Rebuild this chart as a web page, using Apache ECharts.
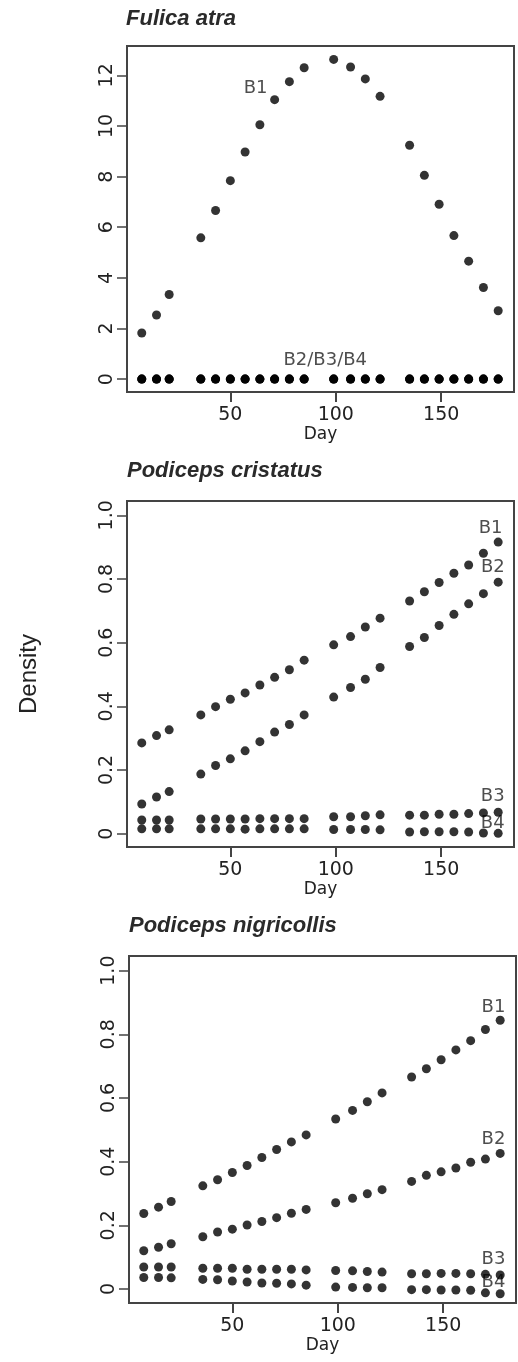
<!DOCTYPE html>
<html>
<head>
<meta charset="utf-8">
<title>Density by day</title>
<script src="https://cdn.jsdelivr.net/npm/echarts@6/dist/echarts.min.js"></script>
<style>
  html, body { margin: 0; padding: 0; background: #fff; }
  #chart { width: 518px; height: 1362px; }
</style>
</head>
<body>
<div id="chart"></div>
<script>
(function () {
  'use strict';

  /* ---------- data ---------- */
  const DAYS = [8, 15, 21, 36, 43, 50, 57, 64, 71, 78, 85, 99, 107, 114, 121, 135, 142, 149, 156, 163, 170, 177];

  const FULICA_B1 = [1.82, 2.53, 3.34, 5.58, 6.66, 7.84, 8.97, 10.05, 11.04, 11.75, 12.30, 12.63, 12.33, 11.86, 11.17, 9.24, 8.05, 6.91, 5.67, 4.66, 3.62, 2.70];
  const FULICA_B2 = [0, 0, 0, 0, 0, 0, 0, 0, 0, 0, 0, 0, 0, 0, 0, 0, 0, 0, 0, 0, 0, 0];
  const FULICA_B3 = [0, 0, 0, 0, 0, 0, 0, 0, 0, 0, 0, 0, 0, 0, 0, 0, 0, 0, 0, 0, 0, 0];
  const FULICA_B4 = [0, 0, 0, 0, 0, 0, 0, 0, 0, 0, 0, 0, 0, 0, 0, 0, 0, 0, 0, 0, 0, 0];

  const CRISTATUS_B1 = [0.285, 0.308, 0.326, 0.373, 0.399, 0.422, 0.442, 0.467, 0.491, 0.515, 0.545, 0.593, 0.619, 0.649, 0.677, 0.731, 0.760, 0.789, 0.818, 0.844, 0.881, 0.916];
  const CRISTATUS_B2 = [0.093, 0.115, 0.132, 0.187, 0.214, 0.235, 0.260, 0.289, 0.319, 0.343, 0.373, 0.429, 0.459, 0.485, 0.522, 0.588, 0.616, 0.654, 0.689, 0.722, 0.754, 0.790];
  const CRISTATUS_B3 = [0.043, 0.043, 0.043, 0.046, 0.046, 0.046, 0.046, 0.047, 0.047, 0.047, 0.047, 0.053, 0.053, 0.056, 0.059, 0.058, 0.058, 0.061, 0.061, 0.063, 0.065, 0.067];
  const CRISTATUS_B4 = [0.015, 0.015, 0.015, 0.015, 0.015, 0.015, 0.014, 0.015, 0.015, 0.015, 0.015, 0.013, 0.013, 0.013, 0.012, 0.005, 0.006, 0.006, 0.006, 0.005, 0.002, 0.001];

  const NIGRICOLLIS_B1 = [0.237, 0.257, 0.275, 0.324, 0.343, 0.366, 0.388, 0.413, 0.438, 0.462, 0.484, 0.534, 0.561, 0.588, 0.616, 0.666, 0.692, 0.720, 0.751, 0.780, 0.815, 0.844];
  const NIGRICOLLIS_B2 = [0.120, 0.131, 0.142, 0.164, 0.179, 0.188, 0.201, 0.212, 0.224, 0.238, 0.250, 0.271, 0.285, 0.299, 0.312, 0.338, 0.357, 0.368, 0.380, 0.398, 0.408, 0.426];
  const NIGRICOLLIS_B3 = [0.069, 0.069, 0.069, 0.065, 0.065, 0.065, 0.062, 0.062, 0.062, 0.062, 0.060, 0.058, 0.057, 0.055, 0.053, 0.048, 0.048, 0.049, 0.049, 0.048, 0.046, 0.044];
  const NIGRICOLLIS_B4 = [0.036, 0.036, 0.035, 0.030, 0.029, 0.025, 0.022, 0.019, 0.018, 0.016, 0.012, 0.006, 0.005, 0.004, 0.004, -0.002, -0.002, -0.003, -0.003, -0.004, -0.012, -0.015];

  // curve tags and where they sit (day, density)
  const FULICA_TAGS = ['B1', 'B2/B3/B4'];
  const FULICA_TAG_AT = [[62, 11.48], [95, 0.75]];
  const CRISTATUS_TAGS = ['B1', 'B2', 'B3', 'B4'];
  const CRISTATUS_TAG_AT = [[173.4, 0.959], [174.5, 0.836], [174.4, 0.117], [174.4, 0.033]];
  const NIGRICOLLIS_TAGS = ['B1', 'B2', 'B3', 'B4'];
  const NIGRICOLLIS_TAG_AT = [[173.8, 0.885], [173.8, 0.471], [173.8, 0.092], [173.8, 0.021]];

  const PANEL_TITLES = ['Fulica atra', 'Podiceps cristatus', 'Podiceps nigricollis'];
  const X_TICKS = [50, 100, 150];
  const Y_TICKS_FULICA = [0, 2, 4, 6, 8, 10, 12];
  const Y_TICKS_DENSITY = [0, 0.2, 0.4, 0.6, 0.8, 1.0];

  /* ---------- styling ---------- */
  const INK = '#000';
  const TEXT = '#222';
  const FRAME = '#444';
  const TICK_FONT = 'DejaVu Sans';

  const PANELS = [
    { grid: { left: 127, top: 46, width: 387, height: 346 }, titleTop: 8, titleLeft: 126,
      yMin: -0.51, yMax: 13.16, yTicks: Y_TICKS_FULICA, nameGap: 31,
      series: [FULICA_B1, FULICA_B2, FULICA_B3, FULICA_B4], tags: FULICA_TAGS, tagAt: FULICA_TAG_AT },
    { grid: { left: 127, top: 501, width: 387, height: 346 }, titleTop: 460, titleLeft: 127,
      yMin: -0.042, yMax: 1.045, yTicks: Y_TICKS_DENSITY, nameGap: 31,
      series: [CRISTATUS_B1, CRISTATUS_B2, CRISTATUS_B3, CRISTATUS_B4], tags: CRISTATUS_TAGS, tagAt: CRISTATUS_TAG_AT },
    { grid: { left: 129, top: 956, width: 387, height: 347 }, titleTop: 915, titleLeft: 129,
      yMin: -0.044, yMax: 1.046, yTicks: Y_TICKS_DENSITY, nameGap: 28,
      series: [NIGRICOLLIS_B1, NIGRICOLLIS_B2, NIGRICOLLIS_B3, NIGRICOLLIS_B4], tags: NIGRICOLLIS_TAGS, tagAt: NIGRICOLLIS_TAG_AT }
  ];

  function pairs(values) {
    return DAYS.map(function (d, i) { return [d, values[i]]; });
  }

  function fmt(v) {
    return Math.abs(v) < 1e-9 ? '0' : (Number.isInteger(v) && v > 1 ? String(v) : v.toFixed(1));
  }

  /* ---------- build option ---------- */
  const grids = [];
  const xAxes = [];
  const yAxes = [];
  const titles = [];
  const series = [];

  PANELS.forEach(function (p, k) {
    grids.push(Object.assign({ show: true, borderColor: FRAME, borderWidth: 2, backgroundColor: 'transparent' }, p.grid));

    titles.push({
      text: PANEL_TITLES[k],
      left: p.titleLeft,
      top: p.titleTop,
      padding: 0,
      textStyle: { fontFamily: 'Liberation Sans', fontStyle: 'italic', fontWeight: 'bold', fontSize: 22, color: '#2a2a2a' }
    });

    xAxes.push({
      type: 'value',
      gridIndex: k,
      position: 'bottom',
      min: 1,
      max: 184.5,
      name: 'Day',
      nameLocation: 'middle',
      nameGap: p.nameGap,
      nameTextStyle: { fontFamily: TICK_FONT, fontSize: 17, color: TEXT },
      axisLine: { show: true, onZero: false, lineStyle: { color: FRAME, width: 2 } },
      splitLine: { show: false },
      axisTick: { show: true, inside: false, length: 10, lineStyle: { color: FRAME, width: 2 }, customValues: X_TICKS },
      axisLabel: { show: true, margin: 14, fontFamily: TICK_FONT, fontSize: 19, color: TEXT, customValues: X_TICKS }
    });

    yAxes.push({
      type: 'value',
      gridIndex: k,
      position: 'left',
      min: p.yMin,
      max: p.yMax,
      name: k === 1 ? 'Density' : '',
      nameLocation: 'middle',
      nameGap: 86,
      nameRotate: 90,
      nameTextStyle: { fontFamily: 'Liberation Sans', fontSize: 24, color: '#222' },
      axisLine: { show: true, onZero: false, lineStyle: { color: FRAME, width: 2 } },
      splitLine: { show: false },
      axisTick: { show: true, inside: false, length: 10, lineStyle: { color: FRAME, width: 1.5 }, customValues: p.yTicks },
      axisLabel: {
        show: true, rotate: 90, margin: 10, align: 'center', verticalAlign: 'bottom',
        fontFamily: TICK_FONT, fontSize: 19, color: TEXT, customValues: p.yTicks,
        formatter: fmt
      }
    });

    // curve tags sit under the dots
    series.push({
      type: 'scatter',
      xAxisIndex: k,
      yAxisIndex: k,
      z: 1,
      symbolSize: 1,
      itemStyle: { color: 'transparent' },
      silent: true,
      data: p.tagAt.map(function (at, i) { return { value: at, name: p.tags[i] }; }),
      label: {
        show: true, position: 'inside', formatter: '{b}',
        fontFamily: TICK_FONT, fontSize: 18, color: TEXT
      }
    });

    p.series.forEach(function (vals, j) {
      series.push({
        type: 'scatter',
        name: 'B' + (j + 1),
        xAxisIndex: k,
        yAxisIndex: k,
        z: 3,
        symbol: 'circle',
        symbolSize: 9,
        itemStyle: { color: INK },
        silent: true,
        data: pairs(vals)
      });
    });
  });

  const chart = echarts.init(document.getElementById('chart'), null, { renderer: 'canvas' });
  chart.setOption({
    backgroundColor: '#fff',
    animation: false,
    title: titles,
    grid: grids,
    xAxis: xAxes,
    yAxis: yAxes,
    series: series
  });
})();
</script>
</body>
</html>
